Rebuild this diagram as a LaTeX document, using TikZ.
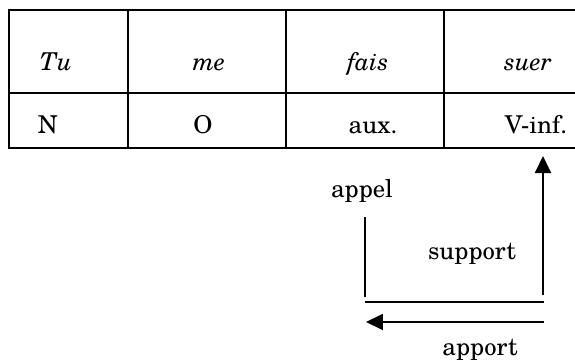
\documentclass[tikz,border=0pt]{standalone}
\usepackage{fontspec}
\setmainfont{TeX Gyre Schola}
\usetikzlibrary{arrows.meta}
\begin{document}
\begin{tikzpicture}[x=0.5pt,y=-0.5pt,line width=0.9pt,
  lbl/.style={inner sep=0pt,anchor=base,font=\fontsize{12.3}{14}\selectfont},
  tipped/.style={-{Triangle[length=8.5pt,width=8pt]}}]
\useasboundingbox (0,0) rectangle (575,360);
\begin{scope}
\clip (0,0) rectangle (575,360);
% table
\draw (580,10) -- (9,10) -- (9,148) -- (580,148);
\draw (9,93) -- (580,93);
\draw (128,10) -- (128,148);
\draw (286,10) -- (286,148);
\draw (444,10) -- (444,148);
\end{scope}
% cells
\node[lbl,anchor=base west] (tu) at (39,70) {\itshape Tu};
\node[lbl] (me) at (209,70) {\itshape me};
\node[lbl] (fais) at (368,70) {\itshape fais};
\node[lbl] (suer) at (528,70) {\itshape suer};
\node[lbl,anchor=base west] (n) at (37,133) {N};
\node[lbl] (o) at (203,133) {O};
\node[lbl] (aux) at (373,133) {aux.};
\node[lbl] (vinf) at (536,133) {V-inf.};
% labels
\node[lbl] (appel) at (362,197) {appel};
\node[lbl] (support) at (472,259) {support};
\node[lbl] (apport) at (480,355) {apport};
% connectors
\coordinate (a1) at (365,217);
\coordinate (a2) at (365,297);
\coordinate (h1) at (365,302);
\coordinate (h2) at (544,302);
\coordinate (u1) at (543,295);
\coordinate (u2) at (543,156);
\coordinate (l1) at (544,322);
\coordinate (l2) at (366,322);
\draw (a1) -- (a2);
\draw (h1) -- (h2);
\draw[tipped] (u1) -- (u2);
\draw[tipped] (l1) -- (l2);
\end{tikzpicture}
\end{document}
